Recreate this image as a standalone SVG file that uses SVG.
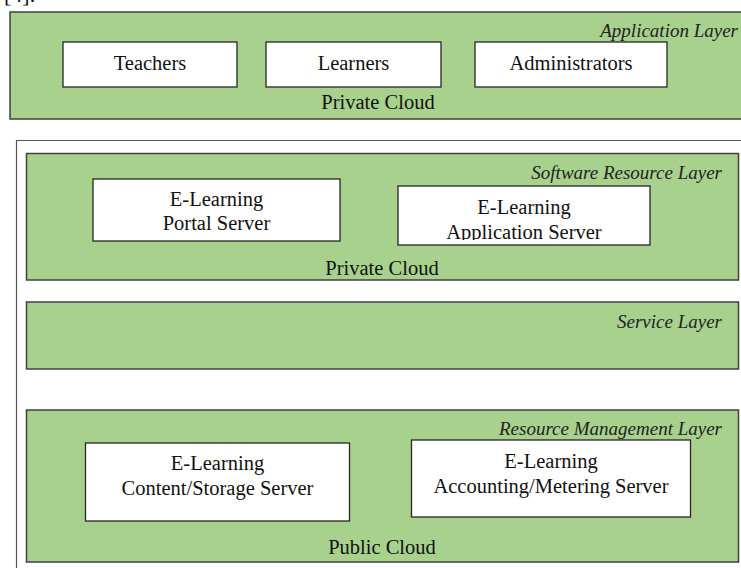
<svg xmlns="http://www.w3.org/2000/svg" width="741" height="568" viewBox="0 0 741 568">
<style>
  .layer { fill: #a9d18e; stroke: #404040; stroke-width: 1.5; }
  .box { fill: #ffffff; stroke: #262626; stroke-width: 1.3; }
  .t { font-family: "Liberation Serif", "Times New Roman", serif; font-size: 20.5px; fill: #111; text-anchor: middle; }
  .lt { font-family: "Liberation Serif", "Times New Roman", serif; font-size: 19px; font-style: italic; fill: #222; text-anchor: end; }
</style>
<defs>
  <clipPath id="clipApp"><rect x="398" y="186" width="252" height="54"/></clipPath>
</defs>
<rect width="741" height="568" fill="#ffffff"/>
<text x="4" y="2" style="font-family:'Liberation Serif',serif;font-size:22px;fill:#111">[4].</text>

<g id="application-layer">
  <rect class="layer" x="10" y="12" width="740" height="107"/>
  <text class="lt" x="738" y="37">Application Layer</text>
  <text class="t" x="378" y="109">Private Cloud</text>
</g>
<g id="teachers">
  <rect class="box" x="63" y="42" width="174" height="45"/>
  <text class="t" x="150" y="70">Teachers</text>
</g>
<g id="learners">
  <rect class="box" x="266" y="42" width="175" height="45"/>
  <text class="t" x="353.5" y="70">Learners</text>
</g>
<g id="administrators">
  <rect class="box" x="475" y="42" width="192" height="45"/>
  <text class="t" x="571" y="70">Administrators</text>
</g>

<g id="outer-frame">
  <path d="M16.5 568 V140.5 H741" fill="none" stroke="#555" stroke-width="1.2"/>
</g>

<g id="software-resource-layer">
  <rect class="layer" x="26.5" y="153.5" width="712" height="126.5"/>
  <text class="lt" x="722" y="179">Software Resource Layer</text>
  <text class="t" x="382" y="275">Private Cloud</text>
</g>
<g id="portal-server">
  <rect class="box" x="93" y="179" width="247" height="62"/>
  <text class="t" x="216.5" y="206">E-Learning</text>
  <text class="t" x="216.5" y="230">Portal Server</text>
</g>
<g id="application-server">
  <rect class="box" x="398" y="186" width="252" height="59"/>
  <text class="t" x="524" y="214">E-Learning</text>
  <text class="t" x="524" y="239" clip-path="url(#clipApp)">Application Server</text>
</g>

<g id="service-layer">
  <rect class="layer" x="26.5" y="302" width="712" height="67"/>
  <text class="lt" x="722" y="328">Service Layer</text>
</g>

<g id="resource-management-layer">
  <rect class="layer" x="26.5" y="410" width="712" height="152"/>
  <text class="lt" x="722" y="435">Resource Management Layer</text>
  <text class="t" x="382" y="554">Public Cloud</text>
</g>
<g id="content-storage-server">
  <rect class="box" x="85.5" y="443" width="264" height="78"/>
  <text class="t" x="217.5" y="470">E-Learning</text>
  <text class="t" x="217.5" y="495">Content/Storage Server</text>
</g>
<g id="accounting-metering-server">
  <rect class="box" x="411.5" y="440" width="279" height="77"/>
  <text class="t" x="551" y="468">E-Learning</text>
  <text class="t" x="551" y="493">Accounting/Metering Server</text>
</g>

<g id="connectors"></g>
</svg>
